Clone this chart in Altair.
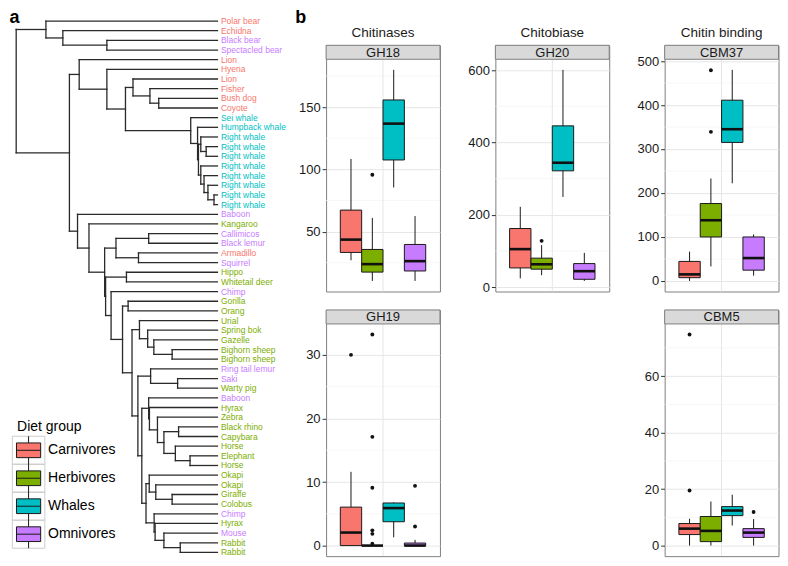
import altair as alt
import pandas as pd

# ---------------- data ----------------
GROUPS = ["Carnivores", "Herbivores", "Whales", "Omnivores"]
COLORS = ["#F8766D", "#7CAE00", "#00BFC4", "#C77CFF"]
KEYS = ["k1", "k2", "k3", "k4"]

LEAF_NAMES = ["Polar bear", "Echidna", "Black bear", "Spectacled bear", "Lion", "Hyena", "Lion",
              "Fisher", "Bush dog", "Coyote", "Sei whale", "Humpback whale", "Right whale",
              "Right whale", "Right whale", "Right whale", "Right whale", "Right whale",
              "Right whale", "Right whale", "Baboon", "Kangaroo", "Callimicos", "Black lemur",
              "Armadillo", "Squirrel", "Hippo", "Whitetail deer", "Chimp", "Gorilla", "Orang",
              "Urial", "Spring bok", "Gazelle", "Bighorn sheep", "Bighorn sheep",
              "Ring tail lemur", "Saki", "Warty pig", "Baboon", "Hyrax", "Zebra", "Black rhino",
              "Capybara", "Horse", "Elephant", "Horse", "Okapi", "Okapi", "Giraffe", "Colobus",
              "Chimp", "Hyrax", "Mouse", "Rabbit", "Rabbit"]
LEAF_DIET = list("CCOOCCCCCC" "WWWWWWWWWW" "OHOOCOHHOH" "HHHHHHOOHO" "HHHHHHHHHH" "HOHOHH")
DIET_CODE = {"C": "Carnivores", "H": "Herbivores", "W": "Whales", "O": "Omnivores"}

# dendrogram: (merge position, left, right); ints are leaf indices
LEAF_X = 213.0
P = (37.7, 0, (55.0, 1, (100.0, 2, 3)))
R4 = (126.7, 6, (144.0, 7, (153.0, 8, 9)))
WA = (196.0, 12, (201.5, 13, 14))
WB = (196.0, 15, (199.3, 16, (203.3, 17, (209.5, 18, 19))))
W = (185.7, 10, (192.7, 11, (193.6, WA, WB)))
R = (71.7, 4, (100.0, 5, (119.0, R4, W)))
T = (109.3, (142.7, 22, 23), (132.3, 24, 25))
D = (133.3, 31, (141.7, 32, (148.0, 33, (166.7, 34, 35))))
E = (144.7, 36, (172.3, 37, 38))
F = (142.7, 39, (143.5, 40, (151.7, 41, (158.3, (173.3, 42, 43), (170.0, 44, (185.0, 45, 46))))))
G = (143.3, 47, (150.0, 48, (166.7, 49, 50)))
H = (148.3, 51, (149.3, 52, (158.3, 53, (175.0, 54, 55))))
FGH = (135.7, F, (140.0, G, H))
C = (104.3, 28, (116.0, (121.7, 29, 30), (125.7, D, (131.7, E, FGH))))
S = (70.0, 20, (81.7, 21, (97.7, T, (98.7, (120.0, 26, 27), C))))
ROOT = (7.3, P, (61.7, R, S))

# boxplots: per group [low whisker, q1, median, q3, high whisker]
GH18_BOX = [[27, 33.3, 43.6, 67.3, 108.4], [10.4, 17.5, 23.9, 35.7, 61],
            [85.5, 107.6, 136.8, 155.8, 180], [10.4, 18.4, 26.3, 39.7, 62.5]]
GH18_OUT = [("Herbivores", 95.7)]
GH18_TICKS = [50, 100, 150]
GH18_MINOR = [25, 75, 125, 175]

GH20_BOX = [[24, 53, 105, 162, 222], [33, 49.5, 63, 80, 116],
            [249.5, 321.6, 344, 446, 601], [17, 21.6, 44, 65, 94.6]]
GH20_OUT = [("Herbivores", 128)]
GH20_TICKS = [0, 200, 400, 600]
GH20_MINOR = [100, 300, 500]

CBM37_BOX = [[0, 7.4, 14.9, 44.4, 66.7], [33, 100, 138, 176, 233],
             [222, 315, 345, 411, 480], [12, 24.5, 52, 100, 106]]
CBM37_OUT = [("Herbivores", 339), ("Herbivores", 479)]
CBM37_TICKS = [0, 100, 200, 300, 400, 500]
CBM37_MINOR = [50, 150, 250, 350, 450]

GH19_BOX = [[0, 0, 2.05, 6.05, 11.6], [0, 0, 0, 0, 0],
            [1.3, 3.75, 5.9, 6.7, 6.8], [0, 0, 0, 0.4, 0.9]]
GH19_OUT = [("Carnivores", 30), ("Herbivores", 33.2), ("Herbivores", 17.1), ("Herbivores", 9.1),
            ("Herbivores", 2.4), ("Herbivores", 1.85), ("Herbivores", 0.3),
            ("Omnivores", 9.4), ("Omnivores", 3.0)]
GH19_TICKS = [0, 10, 20, 30]
GH19_MINOR = [5, 15, 25]

CBM5_BOX = [[0, 3.9, 6, 7.8, 9.5], [0, 1.4, 5.2, 10.3, 15.6],
            [7.1, 10.6, 12.4, 13.8, 18], [0, 2.9, 4.6, 6, 9.4]]
CBM5_OUT = [("Carnivores", 19.5), ("Carnivores", 74.7), ("Omnivores", 11.9)]
CBM5_TICKS = [0, 20, 40, 60]
CBM5_MINOR = [10, 30, 50, 70]

# ---------------- layout constants ----------------
FONT = "Liberation Sans"
PW = 114          # panel width
PH = 246.5        # panel height incl. strip
STRIP = 14
DODGE = 0.225
DEND_W = 261.5
LINE = "#1a1a1a"

color_scale = alt.Scale(domain=GROUPS, range=COLORS)
one = pd.DataFrame({"k": [0]})

# ---------------- dendrogram ----------------
segs = []


def walk(node):
    if isinstance(node, int):
        return LEAF_X, float(node)
    h, a, b = node
    xa, ya = walk(a)
    xb, yb = walk(b)
    segs.append((h, h, ya, yb))
    segs.append((h, xa, ya, ya))
    segs.append((h, xb, yb, yb))
    return h, (ya + yb) / 2


walk(ROOT)
seg_df = pd.DataFrame(segs, columns=["x1", "x2", "y1", "y2"])
leaf_df = pd.DataFrame({
    "name": LEAF_NAMES,
    "group": [DIET_CODE[c] for c in LEAF_DIET],
    "idx": list(range(len(LEAF_NAMES))),
    "lx": [LEAF_X] * len(LEAF_NAMES),
})

dx_scale = alt.Scale(domain=[7.3, LEAF_X], range=[7.2, 208.7], nice=False, zero=False)
dy_scale = alt.Scale(domain=[0, 55], range=[11.7, 543.8], nice=False, zero=False)

tree = alt.Chart(seg_df).mark_rule(color="#2a2a2a", strokeWidth=1.3, strokeCap="square").encode(
    x=alt.X("x1:Q", scale=dx_scale, axis=None),
    x2="x2",
    y=alt.Y("y1:Q", scale=dy_scale, axis=None),
    y2="y2",
)

LEGEND_PATH = "M-1.1,-0.67H1.1V0.67H-1.1Z M-1.1,0H1.1 M0,-1.28V-0.67 M0,0.67V1.28"
FRAME_PATH = "M-1.48,-1.28H1.48V1.28H-1.48Z"
LEG_X, LEG_Y, LEG_SIZE = 8.1, 411, 484

common_leg = dict(
    orient="none", legendX=LEG_X, legendY=LEG_Y,
    symbolSize=LEG_SIZE, symbolOpacity=1, labelFontSize=14, labelFont=FONT,
    titleFont=FONT, titleFontSize=14, titleFontWeight="normal", titlePadding=5,
    rowPadding=-5, labelOffset=8, padding=0, direction="vertical")

labels = alt.Chart(leaf_df).mark_text(align="left", baseline="middle", dx=3.5,
                                      fontSize=8.5, font=FONT).encode(
    x=alt.X("lx:Q", scale=dx_scale, axis=None),
    y=alt.Y("idx:Q", scale=dy_scale, axis=None),
    text="name:N",
    color=alt.Color("group:N", scale=color_scale, legend=alt.Legend(
        title="Diet group", symbolType=LEGEND_PATH, symbolStrokeColor=LINE,
        symbolStrokeWidth=1, labelColor="black", titleColor="black", zindex=2,
        **common_leg)),
)

# legend key frames: a second legend drawn underneath the first; its marks are clipped away
frame_df = pd.DataFrame({"key": KEYS, "idx": [0] * 4, "fx": [-1000.0] * 4})
frames = alt.Chart(frame_df).mark_point(filled=False, color="#CCCCCC", strokeWidth=1,
                                        clip=True).encode(
    x=alt.X("fx:Q", scale=dx_scale, axis=None),
    y=alt.Y("idx:Q", scale=dy_scale, axis=None),
    shape=alt.Shape("key:N", scale=alt.Scale(domain=KEYS, range=[FRAME_PATH] * 4),
                    legend=alt.Legend(title=" ", symbolStrokeColor="#CCCCCC",
                                      symbolStrokeWidth=1, labelExpr="''",
                                      zindex=1, **common_leg)),
)

a_lab = alt.Chart(one).mark_text(text="a", fontSize=18, fontWeight="bold", font=FONT,
                                 align="left", baseline="alphabetic", color="black").encode(
    x=alt.value(0.5), y=alt.value(14))

# the dendrogram sits in the first (short) grid row; its marks extend below it
dendro = alt.layer(frames, tree, labels, a_lab).properties(
    width=DEND_W, height=18, view=alt.ViewBackground(stroke="transparent"))


# ---------------- boxplot panels ----------------
def panel(name, title, boxes, outs, ticks, minor):
    rows = []
    for i, (g, b) in enumerate(zip(GROUPS, boxes)):
        xc = 1 + (i - 1.5) * DODGE
        rows.append(dict(group=g, xc=xc, xl=xc - DODGE / 2, xr=xc + DODGE / 2,
                         lo=b[0], q1=b[1], med=b[2], q3=b[3], hi=b[4]))
    dfb = pd.DataFrame(rows)
    dfo = pd.DataFrame([dict(group=g, xc=1 + (GROUPS.index(g) - 1.5) * DODGE, v=v)
                        for g, v in outs])
    allv = [x for b in boxes for x in b] + [v for _, v in outs]
    lo, hi = min(allv), max(allv)
    pad = 0.05 * (hi - lo)
    dom = [lo - pad, hi + pad]
    ysc = alt.Scale(domain=dom, range=[PH, STRIP], nice=False, zero=False)
    xsc = alt.Scale(domain=[0.4, 1.6], nice=False, zero=False)
    yax = alt.Axis(values=ticks, grid=True, gridColor="#E6E6E6", gridWidth=1, domain=False,
                   ticks=True, tickColor="#333333", tickSize=4, tickWidth=1,
                   labelFontSize=13, labelFont=FONT, labelColor="#1a1a1a", labelPadding=2,
                   title=None)

    dfm = pd.DataFrame({"y": minor, "x0": [0.4] * len(minor), "x1": [1.6] * len(minor)})
    dfv = pd.DataFrame({"x": [1.0], "y0": [dom[0]], "y1": [dom[1]]})

    mg = alt.Chart(dfm).mark_rule(color="#F3F3F3", strokeWidth=0.7).encode(
        x=alt.X("x0:Q", scale=xsc, axis=None), x2="x1",
        y=alt.Y("y:Q", scale=ysc, axis=yax))
    vg = alt.Chart(dfv).mark_rule(color="#E6E6E6", strokeWidth=1).encode(
        x=alt.X("x:Q", scale=xsc, axis=None),
        y=alt.Y("y0:Q", scale=ysc, axis=yax), y2="y1")
    wh = alt.Chart(dfb).mark_rule(color=LINE, strokeWidth=1).encode(
        x=alt.X("xc:Q", scale=xsc, axis=None),
        y=alt.Y("lo:Q", scale=ysc, axis=yax), y2="hi")
    bx = alt.Chart(dfb).mark_rect(stroke=LINE, strokeWidth=1).encode(
        x=alt.X("xl:Q", scale=xsc, axis=None), x2="xr",
        y=alt.Y("q1:Q", scale=ysc, axis=yax), y2="q3",
        fill=alt.Fill("group:N", scale=color_scale, legend=None))
    md = alt.Chart(dfb).mark_rule(color="#111111", strokeWidth=2.6).encode(
        x=alt.X("xl:Q", scale=xsc, axis=None), x2="xr",
        y=alt.Y("med:Q", scale=ysc, axis=yax))
    ot = alt.Chart(dfo).mark_circle(size=15, color="#111111", opacity=1).encode(
        x=alt.X("xc:Q", scale=xsc, axis=None),
        y=alt.Y("v:Q", scale=ysc, axis=yax))
    sdf = pd.DataFrame({"label": [name], "title": [title]})
    st = alt.Chart(sdf).mark_rect(fill="#D9D9D9", stroke="#7F7F7F", strokeWidth=1).encode(
        x=alt.value(0), x2=alt.value(PW), y=alt.value(0), y2=alt.value(STRIP))
    sx = alt.Chart(sdf).mark_text(fontSize=13, font=FONT, color="#1a1a1a",
                                  baseline="middle", align="center").encode(
        x=alt.value(PW / 2), y=alt.value(STRIP / 2 + 0.5), text="label:N")
    layers = [mg, vg, wh, bx, md, ot, st, sx]
    if title:
        layers.append(alt.Chart(sdf).mark_text(fontSize=13.5, font=FONT, color="#1a1a1a",
                                               baseline="alphabetic", align="center").encode(
            x=alt.value(PW / 2), y=alt.value(-8.5), text="title:N"))
    return alt.layer(*layers).properties(
        width=PW, height=PH, view=alt.ViewBackground(stroke="#7F7F7F", strokeWidth=1))


gh18 = panel("GH18", "Chitinases", GH18_BOX, GH18_OUT, GH18_TICKS, GH18_MINOR)
gh20 = panel("GH20", "Chitobiase", GH20_BOX, GH20_OUT, GH20_TICKS, GH20_MINOR)
cbm37 = panel("CBM37", "Chitin binding", CBM37_BOX, CBM37_OUT, CBM37_TICKS, CBM37_MINOR)
gh19 = panel("GH19", "", GH19_BOX, GH19_OUT, GH19_TICKS, GH19_MINOR)
cbm5 = panel("CBM5", "", CBM5_BOX, CBM5_OUT, CBM5_TICKS, CBM5_MINOR)

b_lab = alt.Chart(one).mark_text(text="b", fontSize=18, fontWeight="bold", font=FONT,
                                 align="left", baseline="alphabetic", color="black").encode(
    x=alt.value(-31), y=alt.value(14)).properties(
    width=10, height=18, view=alt.ViewBackground(stroke="transparent"))


def empty():
    return alt.Chart(one).mark_point(opacity=0, size=1).encode(
        x=alt.value(0.5), y=alt.value(0.5)).properties(
        width=1, height=1, view=alt.ViewBackground(stroke="transparent"))


chart = alt.concat(
    dendro, b_lab, empty(), empty(),
    empty(), gh18, gh20, cbm37,
    empty(), gh19, empty(), cbm5,
    columns=4, spacing=alt.RowColnumber(row=18, column=55.5), bounds="flush", align="each",
).properties(padding=0).configure(font=FONT).configure_view(stroke="#7F7F7F")

chart.save("out.html", embed_options={"renderer": "svg", "actions": False})
